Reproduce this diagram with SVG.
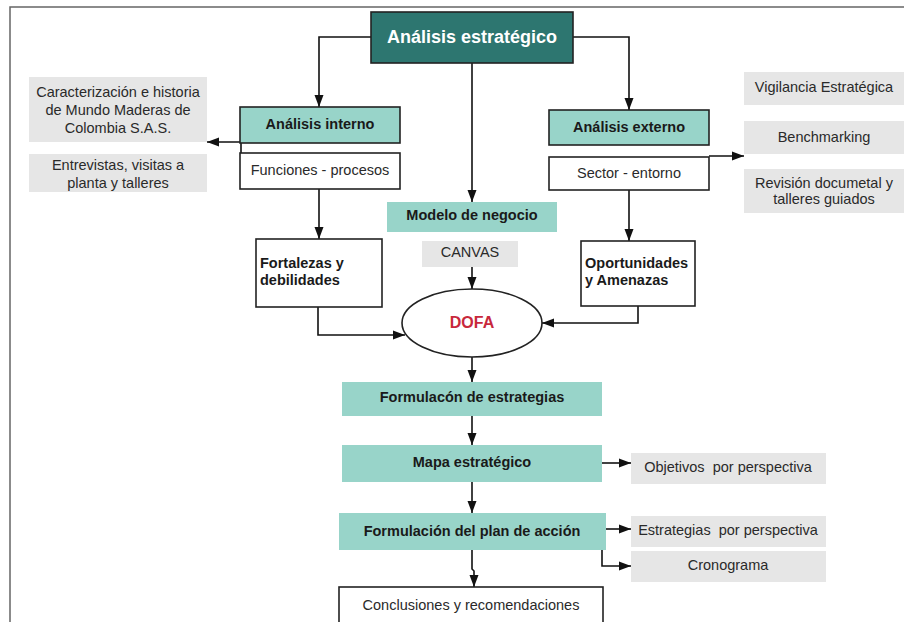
<svg xmlns="http://www.w3.org/2000/svg" width="904" height="622" viewBox="0 0 904 622">
<style>
text{font-family:"Liberation Sans",Arial,sans-serif;font-size:14.5px;fill:#2a2a2a;text-anchor:middle;dominant-baseline:central}
.b{font-weight:bold;fill:#1a1a1a}
.t{font-size:18px;font-weight:bold;fill:#fff}
.l{text-anchor:start}
.p{white-space:pre}
.teal{fill:#98d4c9}
.tb{fill:#98d4c9;stroke:#222;stroke-width:1.6}
.gray{fill:#e6e6e6}
.wb{fill:#fff;stroke:#222;stroke-width:1.6}
.c{fill:none;stroke:#111;stroke-width:1.6;marker-end:url(#ah)}
</style>
<defs>
<marker id="ah" viewBox="0 0 12 10" refX="12" refY="5" markerWidth="12" markerHeight="10" markerUnits="userSpaceOnUse" orient="auto">
<path d="M0,0.5 L12,5 L0,9.5 z" fill="#111"/>
</marker>
</defs>
<rect x="10" y="7" width="900" height="620" fill="#fff" stroke="#666" stroke-width="1.5"/>

<g id="connectors">
<path class="c" d="M371,37 H319 V107"/>
<path class="c" d="M573,37 H629 V110"/>
<path class="c" d="M472,63 V202"/>
<path class="c" d="M241,153 V142 H207"/>
<path class="c" d="M319,189 V239"/>
<path class="c" d="M709,156 H744"/>
<path class="c" d="M629,190 V241"/>
<path class="c" d="M472,267 V289"/>
<path class="c" d="M318,307 V335 H405"/>
<path class="c" d="M638,306 V323 H542"/>
<path class="c" d="M472,357 V382"/>
<path class="c" d="M472,416 V445"/>
<path class="c" d="M472,482 V513"/>
<path class="c" d="M472,550 V569 L474,571 V587"/>
<path class="c" d="M602,463 H631"/>
<path class="c" d="M606,529 H631"/>
<path class="c" d="M602,550 V566 H631"/>
</g>

<g id="n-estrategico">
<rect x="371" y="12" width="202" height="51" fill="#2d7670" stroke="#222" stroke-width="1.6"/>
<text class="t" x="472" y="37">Análisis estratégico</text>
</g>
<g id="n-interno">
<rect class="tb" x="240" y="107" width="160" height="36"/>
<text class="b" x="320" y="124">Análisis interno</text>
</g>
<g id="n-funciones">
<rect class="wb" x="240" y="153" width="160" height="36"/>
<text x="320" y="170">Funciones - procesos</text>
</g>
<g id="n-caracterizacion">
<rect class="gray" x="29" y="77" width="178" height="65"/>
<text x="118" y="92">Caracterización e historia</text>
<text x="118" y="110">de Mundo Maderas de</text>
<text x="118" y="128">Colombia S.A.S.</text>
</g>
<g id="n-entrevistas">
<rect class="gray" x="29" y="154" width="178" height="38"/>
<text x="118" y="165">Entrevistas, visitas a</text>
<text x="118" y="183">planta y talleres</text>
</g>
<g id="n-externo">
<rect class="tb" x="549" y="110" width="160" height="35"/>
<text class="b" x="629" y="127">Análisis externo</text>
</g>
<g id="n-sector">
<rect class="wb" x="549" y="157" width="160" height="33"/>
<text x="629" y="173">Sector - entorno</text>
</g>
<g id="n-vigilancia">
<rect class="gray" x="744" y="72" width="160" height="33"/>
<text x="824" y="87">Vigilancia Estratégica</text>
</g>
<g id="n-benchmarking">
<rect class="gray" x="744" y="121" width="160" height="33"/>
<text x="824" y="137">Benchmarking</text>
</g>
<g id="n-revision">
<rect class="gray" x="744" y="169" width="160" height="44"/>
<text x="824" y="183">Revisión documetal y</text>
<text x="824" y="199">talleres guiados</text>
</g>
<g id="n-modelo">
<rect class="teal" x="387" y="202" width="170" height="30"/>
<text class="b" x="472" y="215">Modelo de negocio</text>
</g>
<g id="n-canvas">
<rect class="gray" x="422" y="241" width="96" height="26"/>
<text x="470" y="252">CANVAS</text>
</g>
<g id="n-fortalezas">
<rect class="wb" x="256" y="239" width="126" height="68"/>
<text class="b l" x="260" y="263">Fortalezas y</text>
<text class="b l" x="260" y="280">debilidades</text>
</g>
<g id="n-oportunidades">
<rect class="wb" x="581" y="241" width="114" height="65"/>
<text class="b l" x="585" y="263">Oportunidades</text>
<text class="b l" x="585" y="280">y Amenazas</text>
</g>
<g id="n-dofa">
<ellipse cx="472" cy="323" rx="70" ry="34" fill="#fff" stroke="#222" stroke-width="1.6"/>
<text class="b" x="472" y="322" style="fill:#c8283c;font-size:16px">DOFA</text>
</g>
<g id="n-formulacon">
<rect class="teal" x="342" y="382" width="260" height="34"/>
<text class="b" x="472" y="397">Formulacón de estrategias</text>
</g>
<g id="n-mapa">
<rect class="teal" x="342" y="445" width="260" height="37"/>
<text class="b" x="472" y="462">Mapa estratégico</text>
</g>
<g id="n-plan">
<rect class="teal" x="339" y="513" width="267" height="37"/>
<text class="b" x="472" y="531">Formulación del plan de acción</text>
</g>
<g id="n-conclusiones">
<rect class="wb" x="339" y="587" width="264" height="50"/>
<text x="471" y="605">Conclusiones y recomendaciones</text>
</g>
<g id="n-objetivos">
<rect class="gray" x="631" y="453" width="195" height="31"/>
<text class="p" x="728" y="467">Objetivos  por perspectiva</text>
</g>
<g id="n-estrategias">
<rect class="gray" x="631" y="516" width="195" height="31"/>
<text class="p" x="728" y="530">Estrategias  por perspectiva</text>
</g>
<g id="n-cronograma">
<rect class="gray" x="631" y="551" width="195" height="31"/>
<text x="728" y="565">Cronograma</text>
</g>
</svg>
